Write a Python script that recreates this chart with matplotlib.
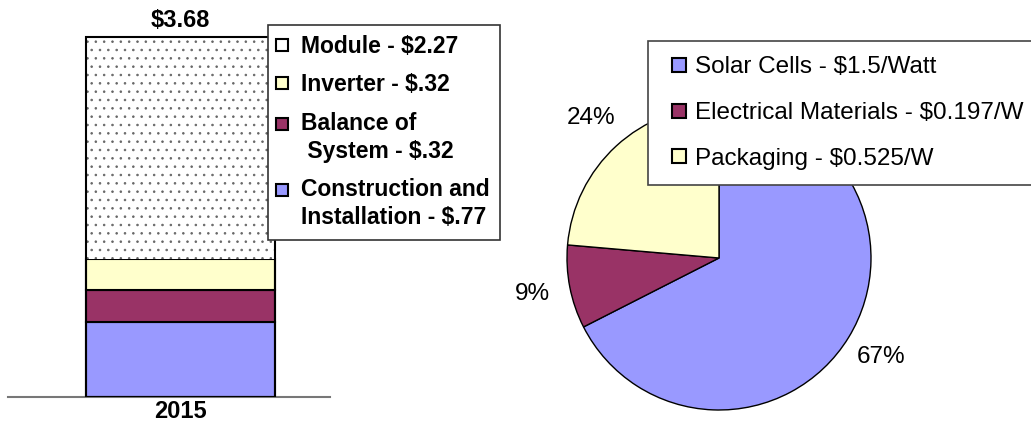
import numpy as np
import matplotlib.pyplot as plt
from matplotlib.lines import Line2D
from matplotlib.legend_handler import HandlerLine2D

plt.rcParams['font.family'] = ['Liberation Sans', 'DejaVu Sans']
plt.rcParams['hatch.linewidth'] = 0.6

# stacked bar (bottom to top)
bar_year = '2015'
bar_values = [0.77, 0.32, 0.32, 2.27]
bar_labels = ['Construction and\nInstallation - $.77', 'Balance of\n System - $.32',
              'Inverter - $.32', 'Module - $2.27']
bar_colors = ['#9999FF', '#993366', '#FFFFCC', 'white']

# pie
pie_values = [1.5, 0.197, 0.525]
pie_labels = ['Solar Cells - $1.5/Watt', 'Electrical Materials - $0.197/W', 'Packaging - $0.525/W']
pie_pct = ['67%', '9%', '24%']
pie_colors = ['#9999FF', '#993366', '#FFFFCC']


class FirstLine(HandlerLine2D):
    # put the marker next to the first line of a two-line label
    def __init__(self, shift, **kw):
        super().__init__(**kw)
        self.shift = shift

    def create_artists(self, legend, orig_handle, xdescent, ydescent, width, height,
                       fontsize, trans):
        arts = super().create_artists(legend, orig_handle, xdescent, ydescent, width,
                                      height, fontsize, trans)
        for a in arts:
            a.set_ydata(np.asarray(a.get_ydata()) + self.shift)
        return arts


W, H = 1031, 423
fig = plt.figure(figsize=(W / 100, H / 100), dpi=100)

# ---- bar ----
total = sum(bar_values)
ax = fig.add_axes([8 / W, 26 / H, 322 / W, 387 / H])
bottom = 0
for i, (v, c) in enumerate(zip(bar_values, bar_colors)):
    if i == 3:
        ax.bar(0, v, width=1, bottom=bottom, color=c, hatch='..', edgecolor='#666666',
               linewidth=0, zorder=2)
    else:
        ax.bar(0, v, width=1, bottom=bottom, color=c, edgecolor='black', linewidth=1.5, zorder=2)
    bottom += v
ax.bar(0, total, width=1, color='none', edgecolor='black', linewidth=1.5, zorder=3)
ax.set_xlim(-0.913, 0.791)
ax.set_ylim(0, 387 / (360 / total))
for s in ['top', 'left', 'right']:
    ax.spines[s].set_visible(False)
ax.spines['bottom'].set_color('#777777')
ax.spines['bottom'].set_linewidth(1.5)
ax.set_yticks([])
ax.set_xticks([0])
ax.set_xticklabels([bar_year], fontsize=17, fontweight='bold')
ax.tick_params(axis='x', length=0, pad=2)
ax.annotate('$%.2f' % total, (0, total), xytext=(0, 7), textcoords='offset points',
            ha='center', va='baseline', fontsize=17, fontweight='bold')

h1 = [Line2D([], [], marker='s', linestyle='none', markersize=8.5,
             markerfacecolor=c, markeredgecolor='black', markeredgewidth=1.5)
      for c in bar_colors]
hmap = {h1[0]: FirstLine(10.5), h1[1]: FirstLine(10.5)}
leg1 = fig.legend(h1[::-1], bar_labels[::-1], loc='upper left',
                  bbox_to_anchor=(268 / W, 1 - 25 / H),
                  prop={'weight': 'bold', 'size': 16.5}, frameon=True, fancybox=False,
                  edgecolor='#333333', framealpha=1, borderpad=0.45, handlelength=0.35,
                  handletextpad=0.65, labelspacing=0.66, borderaxespad=0, handler_map=hmap)
leg1.get_frame().set_linewidth(1.2)
for t in leg1.get_texts():
    t.set_linespacing(1.3)

# ---- pie ----
cx, cy, r = 719, 258, 152
lim = 1.05
size = 2 * r * lim
ax2 = fig.add_axes([(cx - size / 2) / W, (H - cy - size / 2) / H, size / W, size / H])
wedges, texts = ax2.pie(pie_values, labels=pie_pct, colors=pie_colors, startangle=90,
                        counterclock=False, labeldistance=1.25,
                        wedgeprops={'edgecolor': 'black', 'linewidth': 1},
                        textprops={'fontsize': 17.5})
for t in texts:
    t.set_ha('center')
    t.set_va('center')
ax2.set_xlim(-lim, lim)
ax2.set_ylim(-lim, lim)
ax2.set_aspect('equal')

h2 = [Line2D([], [], marker='s', linestyle='none', markersize=9.5,
             markerfacecolor=c, markeredgecolor='black', markeredgewidth=1.5)
      for c in pie_colors]
leg2 = fig.legend(h2, pie_labels, loc='upper left', bbox_to_anchor=(648 / W, 1 - 41 / H),
                  fontsize=17.5, frameon=True, fancybox=False, edgecolor='#444444',
                  framealpha=1, borderpad=0.63, handlelength=1.25, handletextpad=0.06,
                  labelspacing=0.98, borderaxespad=0)
leg2.get_frame().set_linewidth(1.2)

fig.savefig('out.png', dpi=100)
